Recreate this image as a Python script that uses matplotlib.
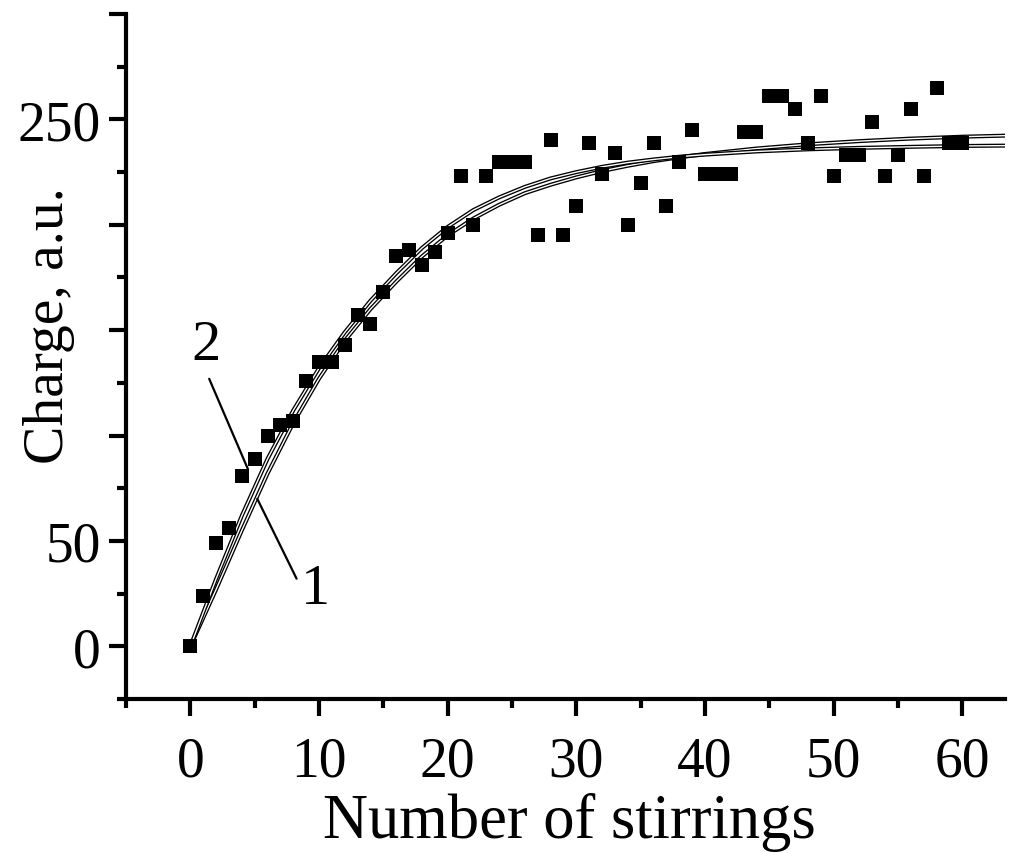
import matplotlib
matplotlib.use("Agg")
import matplotlib.pyplot as plt
import matplotlib.patheffects as pe
from matplotlib.ticker import MultipleLocator, FuncFormatter

# measured charge vs. number of stirrings
stirrings = list(range(0, 61))
charge = [0, 24, 49, 56, 81, 89, 100, 105, 107, 126,
          135, 135, 143, 157, 153, 168, 185, 188, 181, 187,
          196, 223, 200, 223, 230, 230, 230, 195, 240, 195,
          209, 239, 224, 234, 200, 220, 239, 209, 230, 245,
          224, 224, 224, 244, 244, 261, 261, 255, 239, 261,
          223, 233, 233, 249, 223, 233, 255, 223, 265, 239,
          239]

# fitted curves 1 and 2
fit_x = [0, 2, 4, 6, 8, 10, 12, 14, 16, 18, 20, 22, 24, 26, 28, 30,
         32, 34, 36, 38, 40, 44, 48, 52, 56, 60, 64]
fit_1 = [0, 27, 55, 82, 106, 127, 145, 160, 173, 185, 195, 203, 209.5, 215, 219, 222.5,
         225.5, 228, 230.2, 232, 233.6, 236.2, 238.2, 239.7, 240.9, 241.8, 242.4]
fit_2 = [0, 32, 62, 89, 112, 132, 149, 164, 177, 189, 199, 207, 213, 218, 222, 225,
         227.5, 229.5, 231, 232.3, 233.3, 234.8, 235.8, 236.5, 237, 237.4, 237.6]

y_labels_shown = [0, 50, 250]

plt.rcParams['font.family'] = ['Liberation Serif', 'DejaVu Serif']

fig = plt.figure(figsize=(10.19, 8.54), dpi=100)
ax = fig.add_axes([0.1237, 0.1803, 0.8623, 0.8021])

# curves are drawn hollow: black outline, white core
hollow = [pe.Stroke(linewidth=2.9, foreground='black'), pe.Normal()]
for fy in (fit_1, fit_2):
    ax.plot(fit_x, fy, color='white', lw=1.0, path_effects=hollow, zorder=2)

ax.plot(stirrings, charge, 's', color='black', ms=10, mew=0, zorder=3)

ax.annotate('2', xy=(4.48, 84), xytext=(1.2, 143), fontsize=42,
            ha='center', va='center',
            arrowprops=dict(arrowstyle='-', lw=1.6, color='black',
                            relpos=(0.5, 0.0), shrinkA=4, shrinkB=0))
ax.annotate('1', xy=(5.2, 70), xytext=(9.7, 27), fontsize=42,
            ha='center', va='center',
            arrowprops=dict(arrowstyle='-', lw=1.6, color='black',
                            relpos=(0.0, 0.55), shrinkA=2, shrinkB=0))

ax.set_xlim(-5, 63.3)
ax.set_ylim(-25, 300)
for side in ('top', 'right'):
    ax.spines[side].set_visible(False)
for side in ('left', 'bottom'):
    ax.spines[side].set_linewidth(3)

ax.xaxis.set_major_locator(MultipleLocator(10))
ax.xaxis.set_minor_locator(MultipleLocator(5))
ax.yaxis.set_major_locator(MultipleLocator(50))
ax.yaxis.set_minor_locator(MultipleLocator(25))
ax.yaxis.set_major_formatter(FuncFormatter(
    lambda v, p: f"{int(v)}" if int(round(v)) in y_labels_shown else ""))

ax.tick_params(which='major', direction='out', length=12, width=3, labelsize=40)
ax.tick_params(which='minor', direction='out', length=6.5, width=3)
ax.tick_params(axis='x', which='major', pad=14)
ax.tick_params(axis='y', which='major', pad=6)

ax.set_xlabel('Number of stirrings', fontsize=45)
ax.xaxis.set_label_coords(0.505, -0.136)
ax.set_ylabel('Charge, a.u.', fontsize=41.5)
ax.yaxis.set_label_coords(-0.058, 0.547)

fig.savefig('out.png', dpi=100)
